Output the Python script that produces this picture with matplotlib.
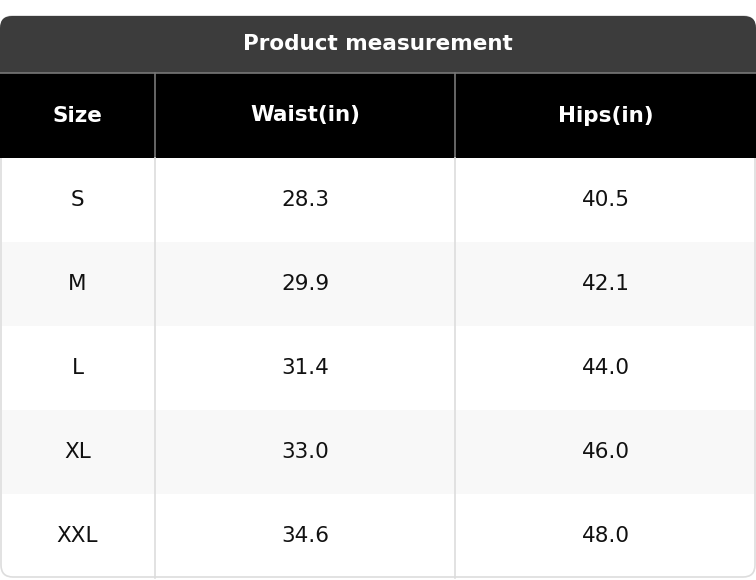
import matplotlib
matplotlib.use("Agg")
import matplotlib.pyplot as plt
from matplotlib.patches import Rectangle, FancyBboxPatch

title = "Product measurement"
columns = ["Size", "Waist(in)", "Hips(in)"]
sizes = ["S", "M", "L", "XL", "XXL"]
waist = ["28.3", "29.9", "31.4", "33.0", "34.6"]
hips = ["40.5", "42.1", "44.0", "46.0", "48.0"]

W, H = 756, 580
fig = plt.figure(figsize=(W/100, H/100), dpi=100)
ax = fig.add_axes([0, 0, 1, 1])
ax.set_xlim(0, W); ax.set_ylim(H, 0); ax.axis("off")

colx = [0, 155, 455, 756]
top, tb, hb = 16, 73, 158
rh = 84
bottom = hb + rh * len(sizes)

# outer rounded background
ax.add_patch(FancyBboxPatch((1, top), W-2, bottom-top-1, boxstyle="round,pad=0,rounding_size=12",
                            fc="white", ec="#dddddd", lw=1.2, zorder=0))
# title bar
ax.add_patch(FancyBboxPatch((0, top), W, tb-top+20, boxstyle="round,pad=0,rounding_size=12",
                            fc="#3c3c3c", ec="none", zorder=1))
ax.add_patch(Rectangle((0, tb), W, hb-tb, fc="black", ec="none", zorder=2))
ax.plot([0, W], [tb, tb], color="#777777", lw=1.2, zorder=3)
ax.text(W/2, (top+tb)/2, title, color="white", fontsize=15.5, fontweight="bold",
        ha="center", va="center", zorder=4)
for x in colx[1:-1]:
    ax.plot([x, x], [tb, hb], color="#777777", lw=1.2, zorder=3)
    ax.plot([x, x], [hb, bottom], color="#dddddd", lw=1.2, zorder=3)
for j, c in enumerate(columns):
    ax.text((colx[j]+colx[j+1])/2, (tb+hb)/2, c, color="white", fontsize=15.5,
            fontweight="bold", ha="center", va="center", zorder=4)

data = list(zip(sizes, waist, hips))
for i, row in enumerate(data):
    y0 = hb + i*rh
    if i % 2 == 1:
        ax.add_patch(Rectangle((2, y0), W-4, rh, fc="#f8f8f8", ec="none", zorder=1))
    for j, v in enumerate(row):
        ax.text((colx[j]+colx[j+1])/2, y0+rh/2, v, color="#111111", fontsize=15.5,
                ha="center", va="center", zorder=4)

fig.savefig("out.png", dpi=100)
